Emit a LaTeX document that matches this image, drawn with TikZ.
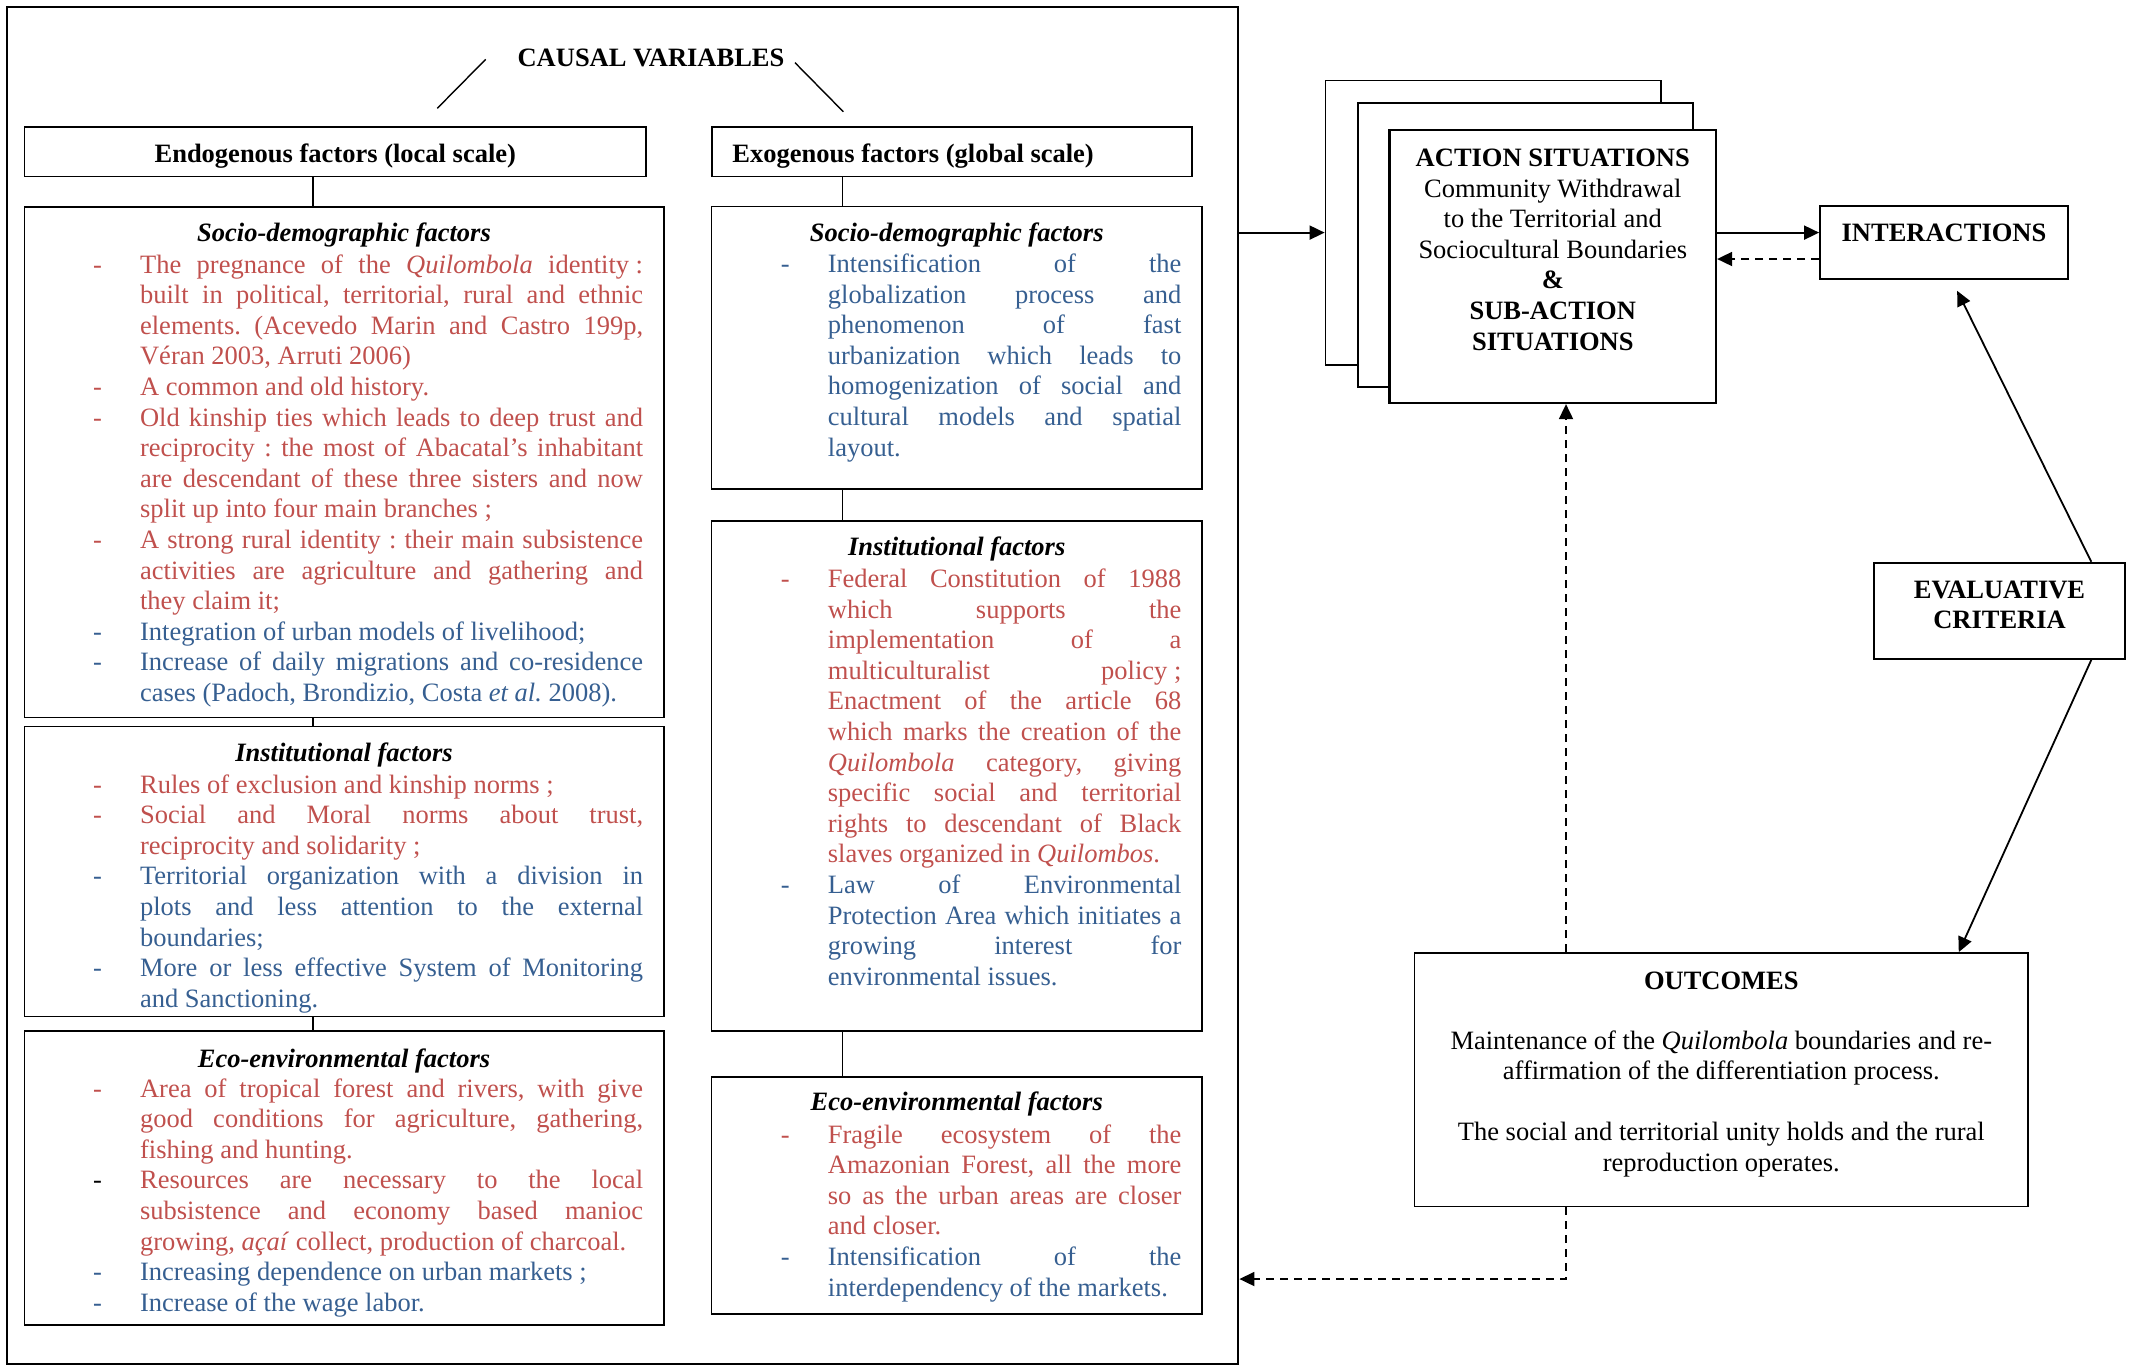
\documentclass[tikz,border=0pt]{standalone}
\usepackage{fontspec}
\setmainfont{Liberation Serif}
\usetikzlibrary{fit,arrows.meta,calc}
\definecolor{qred}{HTML}{C0504D}
\definecolor{qblue}{HTML}{365F91}
\newcommand\bodysize{\fontsize{13.25pt}{15.3pt}\selectfont}
\newcommand\qj[2]{\makebox[\linewidth][s]{\color{#1}#2}\par}
\newcommand\qe[2]{\mbox{\color{#1}#2}\par}
\newcommand\qd[1]{\noindent\llap{\makebox[23.5pt][l]{\color{#1}-}}\ignorespaces}
\newenvironment{qblock}[1]{\begin{minipage}[t]{#1}\bodysize\frenchspacing\parindent=0pt\parskip=0pt\relax}{\end{minipage}}
\hbadness=10000 \hfuzz=5pt
\begin{document}
\begin{tikzpicture}[x=0.5pt,y=-0.5pt,
  every node/.append style={font=\bodysize},
  box/.style={draw, line width=0.9pt, inner sep=0pt},
  stackbox/.style={box, fill=white},
  txt/.style={anchor=base west, inner sep=0pt},
  head/.style={anchor=base, inner sep=0pt, font=\bodysize\bfseries\itshape},
  bold/.style={anchor=base, inner sep=0pt, font=\bodysize\bfseries},
  link/.style={line width=0.8pt},
  arr/.style={line width=0.9pt, -{Triangle[length=7.5pt,width=7pt]}},
  darr/.style={arr, dash pattern=on 4pt off 3pt}]
\useasboundingbox (0,0) rectangle (2134,1367);

% ---------- causal variables frame ----------
\node[box, line width=1.4pt, fit={(7,7) (1238,1364)}] (outer) {};
\node[bold] (cv) at (651,66) {CAUSAL VARIABLES};
\coordinate (dl1) at (485.7,59.3); \coordinate (dl2) at (437.3,108.3);
\coordinate (dr1) at (795,62.7);   \coordinate (dr2) at (843.3,111.7);
\draw[line width=0.7pt] (dl1) -- (dl2);
\draw[line width=0.7pt] (dr1) -- (dr2);

\node[box, fit={(24.5,126.7) (646,176.5)}] (endo) {};
\node[bold] (endoT) at (335.3,162) {Endogenous factors (local scale)};
\node[box, fit={(711.7,126.7) (1192,176.5)}] (exo) {};
\node[bold, anchor=base west] (exoT) at (732,162) {Exogenous factors (global scale)};

\node[box, fit={(24.5,207) (664,717.5)}] (ls) {};
\node[box, fit={(24.5,726.5) (664,1016.5)}] (li) {};
\node[box, fit={(24.5,1031) (664,1325)}] (le) {};
\node[box, fit={(711.5,206.5) (1202,488.6)}] (rs) {};
\node[box, fit={(711.5,521) (1202,1031)}] (ri) {};
\node[box, fit={(711.5,1077) (1202,1314)}] (re) {};

\coordinate (cl) at (313,0);
\coordinate (cr) at (842.5,0);
\draw[link] (endo.south -| cl) -- (ls.north -| cl);
\draw[link] (ls.south -| cl) -- (li.north -| cl);
\draw[link] (li.south -| cl) -- (le.north -| cl);
\draw[link] (exo.south -| cr) -- (rs.north -| cr);
\draw[link] (rs.south -| cr) -- (ri.north -| cr);
\draw[link] (ri.south -| cr) -- (re.north -| cr);

% ---------- left column texts ----------
\node[head] (lsH) at (344,241.5) {Socio-demographic factors};
\node[txt] (lsT) at (139.7,273) {\begin{qblock}{251.5pt}
\qd{qred}\qj{qred}{The pregnance of the \textit{Quilombola} \mbox{identity :}}
\qj{qred}{built in political, territorial, rural and ethnic}
\qj{qred}{elements. (Acevedo Marin and Castro 199p,}
\qe{qred}{Véran 2003, Arruti 2006)}
\qd{qred}\qe{qred}{A common and old history.}
\qd{qred}\qj{qred}{Old kinship ties which leads to deep trust and}
\qj{qred}{reciprocity : the most of Abacatal’s inhabitant}
\qj{qred}{are descendant of these three sisters and now}
\qe{qred}{split up into four main branches ;}
\qd{qred}\qj{qred}{A strong rural identity : their main subsistence}
\qj{qred}{activities are agriculture and gathering and}
\qe{qred}{they claim it;}
\qd{qblue}\qe{qblue}{Integration of urban models of livelihood;}
\qd{qblue}\qj{qblue}{Increase of daily migrations and co-residence}
\qe{qblue}{cases (Padoch, Brondizio, Costa \textit{et al.} 2008).}
\end{qblock}};

\node[head] (liH) at (344,761.5) {Institutional factors};
\node[txt] (liT) at (139.7,793) {\begin{qblock}{251.5pt}
\qd{qred}\qe{qred}{Rules of exclusion and kinship norms ;}
\qd{qred}\qj{qred}{Social and Moral norms about trust,}
\qe{qred}{reciprocity and solidarity ;}
\qd{qblue}\qj{qblue}{Territorial organization with a division in}
\qj{qblue}{plots and less attention to the external}
\qe{qblue}{boundaries;}
\qd{qblue}\qj{qblue}{More or less effective System of Monitoring}
\qe{qblue}{and Sanctioning.}
\end{qblock}};

\node[head] (leH) at (344,1067.5) {Eco-environmental factors};
\node[txt] (leT) at (139.7,1097) {\begin{qblock}{251.5pt}
\qd{qred}\qj{qred}{Area of tropical forest and rivers, with give}
\qj{qred}{good conditions for agriculture, gathering,}
\qe{qred}{fishing and hunting.}
\qd{black}\qj{qred}{Resources are necessary to the local}
\qj{qred}{subsistence and economy based manioc}
\qe{qred}{growing, \textit{açaí} collect, production of charcoal.}
\qd{qblue}\qe{qblue}{Increasing dependence on urban markets ;}
\qd{qblue}\qe{qblue}{Increase of the wage labor.}
\end{qblock}};

% ---------- right column texts ----------
\node[head] (rsH) at (956.7,241.5) {Socio-demographic factors};
\node[txt] (rsT) at (827.5,272.5) {\begin{qblock}{176.75pt}
\qd{qblue}\qj{qblue}{Intensification of the}
\qj{qblue}{globalization process and}
\qj{qblue}{phenomenon of fast}
\qj{qblue}{urbanization which leads to}
\qj{qblue}{homogenization of social and}
\qj{qblue}{cultural models and spatial}
\qe{qblue}{layout.}
\end{qblock}};

\node[head] (riH) at (956.7,555.5) {Institutional factors};
\node[txt] (riT) at (827.5,587.5) {\begin{qblock}{176.75pt}
\qd{qred}\qj{qred}{Federal Constitution of 1988}
\qj{qred}{which supports the}
\qj{qred}{implementation of a}
\qj{qred}{multiculturalist \mbox{policy ;}}
\qj{qred}{Enactment of the article 68}
\qj{qred}{which marks the creation of the}
\qj{qred}{\textit{Quilombola} category, giving}
\qj{qred}{specific social and territorial}
\qj{qred}{rights to descendant of Black}
\qe{qred}{slaves organized in \textit{Quilombos}.}
\qd{qblue}\qj{qblue}{Law of Environmental}
\qj{qblue}{Protection Area which initiates a}
\qj{qblue}{growing interest for}
\qe{qblue}{environmental issues.}
\end{qblock}};

\node[head] (reH) at (956.7,1110.5) {Eco-environmental factors};
\node[txt] (reT) at (827.5,1143) {\begin{qblock}{176.75pt}
\qd{qred}\qj{qred}{Fragile ecosystem of the}
\qj{qred}{Amazonian Forest, all the more}
\qj{qred}{so as the urban areas are closer}
\qe{qred}{and closer.}
\qd{qblue}\qj{qblue}{Intensification of the}
\qe{qblue}{interdependency of the markets.}
\end{qblock}};

% ---------- right part ----------
\node[stackbox, fit={(1325.5,80.5) (1660.7,364.8)}] (back) {};
\node[stackbox, fit={(1358,102.8) (1693,387)}] (mid) {};
\node[stackbox, line width=1.1pt, fit={(1389.5,130) (1716,403)}] (as) {};
\node[anchor=base, inner sep=0pt] (asT) at (1552.8,166.5) {\begin{minipage}[t]{160pt}\bodysize\centering
\textbf{ACTION SITUATIONS}\\
Community Withdrawal\\
to the Territorial and\\
Sociocultural Boundaries\\
\textbf{\&}\\
\textbf{SUB-ACTION}\\
\textbf{SITUATIONS}\end{minipage}};

\node[box, fit={(1820,206) (2068,279)}] (int) {};
\node[bold] (intT) at (1944,241) {INTERACTIONS};

\node[box, fit={(1874,562.7) (2125,659)}] (ec) {};
\node[anchor=base, inner sep=0pt] (ecT) at (1999.5,598) {\begin{minipage}[t]{110pt}\bodysize\bfseries\centering
EVALUATIVE\\ CRITERIA\end{minipage}};

\node[box, fit={(1414.5,953) (2028,1206.5)}] (out) {};
\node[bold] (outH) at (1721.3,989) {OUTCOMES};
\node[anchor=base, inner sep=0pt] (outT) at (1721.3,1049) {\begin{minipage}[t]{300pt}\bodysize\centering
Maintenance of the \textit{Quilombola} boundaries and re-\\
affirmation of the differentiation process.\\[15.3pt]
The social and territorial unity holds and the rural\\
reproduction operates.\end{minipage}};

% ---------- connectors ----------
\coordinate (yA) at (0,232.6);
\coordinate (yD) at (0,259);
\coordinate (yB) at (0,1279);
\coordinate (vx) at (1566,0);
\draw[arr] (outer.east |- yA) -- (back.west |- yA);
\draw[arr] (as.east |- yA) -- (int.west |- yA);
\draw[darr] (int.west |- yD) -- (as.east |- yD);
\draw[darr] (out.north -| vx) -- (as.south -| vx);
\draw[darr] (out.south -| vx) -- (vx |- yB) -- (outer.east |- yB);
\draw[arr, shorten >=6.1pt] ($(ec.north west)!0.863!(ec.north east)$) -- ($(int.south west)!0.531!(int.south east)$);
\draw[arr] ($(ec.south west)!0.863!(ec.south east)$) -- ($(out.north west)!0.886!(out.north east)$);
\end{tikzpicture}
\end{document}
